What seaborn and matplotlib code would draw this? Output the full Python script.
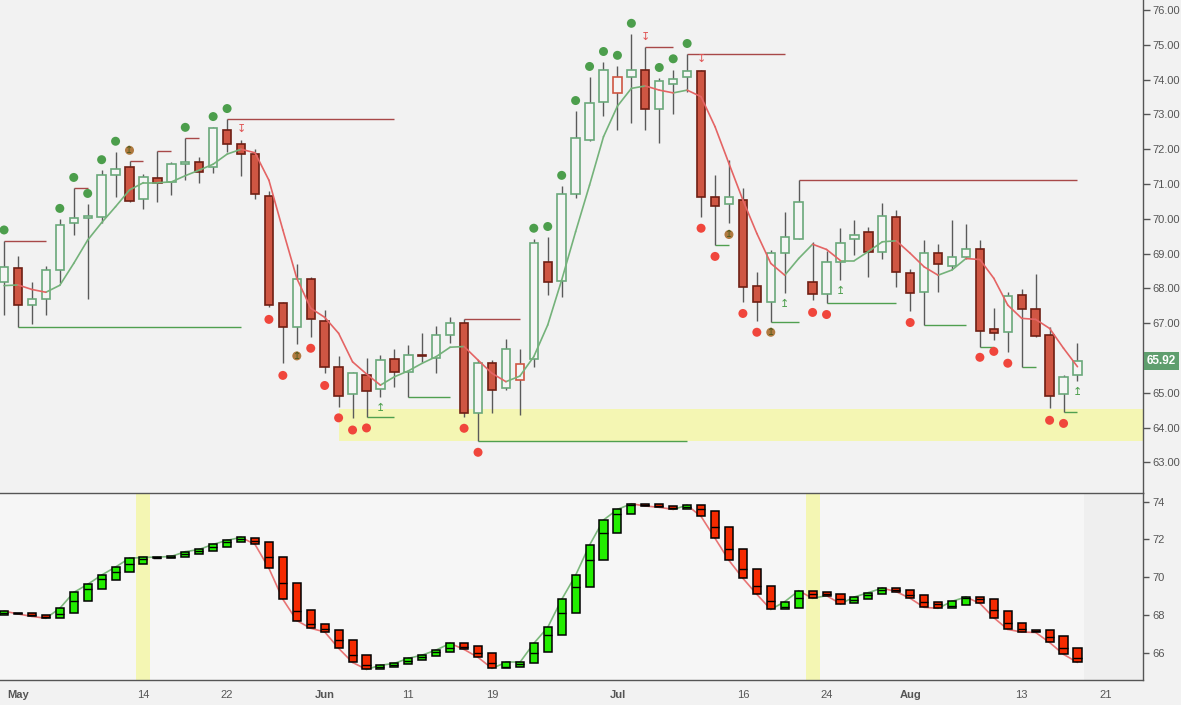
import numpy as np
import pandas as pd
import matplotlib
matplotlib.use("Agg")
import matplotlib.pyplot as plt
import matplotlib.transforms as mtransforms
from matplotlib.patches import Rectangle
import seaborn as sns

# trading-day index: -1 = Apr 30 2018, 0 = May 1 ... 76 = Aug 17
day = list(range(-1, 77))

opens = [68.19, 68.58, 67.53, 67.71, 68.53, 69.87, 70.03, 70.06, 71.25, 71.48,
         70.56, 71.16, 71.05, 71.59, 71.62, 71.48, 72.55, 72.14, 71.85, 70.67,
         67.57, 66.88, 68.26, 67.07, 65.73, 64.96, 65.52, 65.11, 65.98, 65.59,
         66.08, 66.01, 66.66, 67.02, 64.41, 65.85, 65.13, 65.37, 65.96, 68.77,
         68.22, 70.70, 72.28, 73.35, 73.63, 74.09, 74.27, 73.17, 73.89, 74.07,
         74.24, 70.62, 70.42, 70.53, 68.07, 67.62, 69.01, 69.42, 68.19, 67.83,
         68.77, 69.42, 69.61, 69.04, 70.06, 68.45, 67.89, 69.01, 68.65, 68.91,
         69.12, 66.82, 66.76, 67.80, 67.42, 66.65, 64.96, 65.50]
highs = [69.36, 68.93, 68.19, 68.65, 69.99, 70.88, 70.43, 71.40, 71.92, 71.65,
         71.29, 71.94, 71.62, 72.32, 71.79, 72.65, 72.87, 72.28, 72.02, 70.81,
         67.60, 68.69, 68.32, 67.37, 66.06, 65.59, 65.99, 66.08, 66.25, 66.37,
         66.73, 66.92, 67.17, 67.11, 65.94, 65.94, 66.54, 66.25, 69.42, 69.48,
         70.94, 73.10, 74.07, 74.52, 74.39, 75.31, 74.93, 74.04, 74.29, 74.74,
         74.29, 71.26, 71.69, 70.90, 68.47, 69.10, 70.21, 71.13, 69.32, 69.07,
         69.73, 69.97, 69.77, 70.45, 70.25, 68.55, 69.39, 69.27, 69.97, 69.85,
         69.39, 67.43, 67.89, 67.97, 68.41, 66.90, 65.51, 66.44]
lows = [67.24, 66.90, 66.98, 67.25, 68.16, 69.53, 67.69, 69.89, 70.62, 70.49,
        70.29, 70.47, 70.69, 71.11, 71.04, 71.31, 71.93, 71.24, 70.56, 67.48,
        65.85, 66.39, 66.61, 65.56, 64.60, 64.27, 64.31, 64.87, 65.18, 64.89,
        65.89, 65.56, 66.42, 64.31, 63.61, 64.43, 65.08, 64.36, 65.75, 67.82,
        67.76, 70.61, 72.25, 72.96, 72.55, 72.76, 72.55, 72.19, 73.02, 73.65,
        70.06, 69.24, 69.89, 67.62, 67.06, 67.04, 67.86, 69.42, 67.67, 67.57,
        68.24, 68.96, 68.32, 68.85, 68.03, 67.36, 66.95, 67.91, 68.55, 68.86,
        66.33, 66.52, 66.18, 65.73, 66.61, 64.55, 64.44, 65.35]
closes = [68.62, 67.52, 67.71, 68.53, 69.81, 70.01, 70.07, 71.25, 71.42, 70.52,
          71.19, 71.02, 71.57, 71.63, 71.35, 72.60, 72.14, 71.85, 70.70, 67.52,
          66.88, 68.26, 67.11, 65.73, 64.91, 65.56, 65.04, 65.95, 65.60, 66.08,
          66.05, 66.66, 67.02, 64.41, 65.85, 65.08, 66.25, 65.82, 69.30, 68.19,
          70.70, 72.31, 73.32, 74.27, 74.08, 74.29, 73.15, 73.95, 74.03, 74.24,
          70.64, 70.36, 70.62, 68.03, 67.62, 69.01, 69.47, 70.47, 67.83, 68.77,
          69.30, 69.54, 69.06, 70.09, 68.46, 67.86, 69.01, 68.69, 68.91, 69.12,
          66.79, 66.71, 67.78, 67.42, 66.64, 64.92, 65.46, 65.92]
ma = [68.08, 68.10, 67.97, 67.89, 68.09, 68.72, 69.39, 69.89, 70.35, 70.83,
      71.04, 71.04, 71.06, 71.24, 71.40, 71.57, 71.86, 72.00, 71.90, 71.11,
      69.68, 68.29, 67.43, 67.17, 66.71, 65.89, 65.54, 65.22, 65.46, 65.63,
      65.85, 66.04, 66.31, 66.33, 65.94, 65.56, 65.32, 65.48, 66.04, 66.95,
      68.24, 69.63, 70.97, 72.36, 73.24, 73.75, 73.82, 73.70, 73.62, 73.70,
      73.51, 72.65, 71.59, 70.54, 69.58, 68.72, 68.38, 68.86, 69.27, 69.12,
      68.80, 68.80, 69.06, 69.34, 69.37, 69.01, 68.62, 68.38, 68.53, 68.86,
      68.83, 68.29, 67.52, 67.14, 67.11, 66.85, 66.28, 65.75]

green_dot_day = [-1, 3, 4, 5, 6, 7, 12, 14, 15, 37, 38, 39, 40, 41, 42, 43, 44, 46, 47, 48]
green_dot_px = [69.68, 70.30, 71.19, 70.73, 71.70, 72.23, 72.63, 72.94, 73.17, 69.73,
                69.78, 71.25, 73.40, 74.38, 74.81, 74.70, 75.62, 74.35, 74.60, 75.04]
red_dot_day = [18, 19, 21, 22, 23, 24, 25, 32, 33, 49, 50, 52, 53, 57, 58, 64, 69, 70, 71, 74, 75]
red_dot_px = [67.11, 65.50, 66.28, 65.21, 64.28, 63.93, 63.99, 63.98, 63.29, 69.73,
              68.92, 67.28, 66.74, 67.31, 67.25, 67.02, 66.02, 66.19, 65.85, 64.21, 64.12]
mixed_dot_day = [8, 20, 51, 54]
mixed_dot_px = [71.97, 66.06, 69.55, 66.74]
down_arrow_day = [16, 45, 49]
down_arrow_px = [72.58, 75.23, 74.60]
up_arrow_day = [26, 55, 59, 76]
up_arrow_px = [64.55, 67.54, 67.93, 65.01]

res_start = [-1, 4, 8, 10, 12, 15, 32, 45, 48, 56]
res_end = [2, 5, 9, 11, 13, 27, 36, 47, 55, 76]
res_px = [69.36, 70.88, 71.65, 71.94, 72.32, 72.87, 67.11, 74.93, 74.74, 71.13]
sup_start = [0, 25, 28, 33, 50, 54, 58, 65, 69, 72, 75]
sup_end = [16, 27, 31, 48, 51, 56, 63, 68, 70, 73, 76]
sup_px = [66.88, 64.31, 64.89, 63.61, 69.24, 67.04, 67.57, 66.95, 66.33, 65.73, 64.44]

zone_day = 23
zone_low = 63.61
zone_high = 64.53

# lower panel: smoothed bars
ha_open = [68.02, 68.12, 68.09, 67.98, 67.86, 68.08, 68.75, 69.39, 69.87, 70.29,
           70.71, 71.00, 71.04, 71.07, 71.23, 71.40, 71.61, 71.84, 72.10, 71.88,
           71.09, 69.68, 68.25, 67.50, 67.19, 66.67, 65.87, 65.11, 65.22, 65.38,
           65.59, 65.80, 66.01, 66.49, 66.33, 65.96, 65.17, 65.25, 65.43, 66.01,
           66.92, 68.08, 69.46, 70.89, 72.32, 73.33, 73.89, 73.86, 73.75, 73.59,
           73.81, 73.49, 72.64, 71.47, 70.41, 69.51, 68.31, 68.35, 69.28, 69.23,
           69.12, 68.61, 68.82, 69.09, 69.42, 69.34, 69.04, 68.66, 68.38, 68.51,
           68.95, 68.82, 68.22, 67.55, 67.18, 67.18, 66.86, 66.23]
ha_close = [68.20, 68.05, 67.92, 67.82, 68.35, 69.19, 69.62, 70.11, 70.54, 71.00,
            71.05, 71.06, 71.10, 71.35, 71.47, 71.74, 71.95, 72.11, 71.74, 70.47,
            68.83, 67.70, 67.29, 67.10, 66.23, 65.48, 65.11, 65.33, 65.43, 65.70,
            65.87, 66.14, 66.49, 66.17, 65.75, 65.17, 65.48, 65.48, 66.49, 67.34,
            68.82, 70.10, 71.70, 73.03, 73.59, 73.89, 73.77, 73.70, 73.59, 73.81,
            73.22, 72.06, 70.89, 69.94, 69.09, 68.29, 68.70, 69.28, 68.88, 69.02,
            68.59, 68.95, 69.18, 69.42, 69.23, 68.88, 68.40, 68.35, 68.72, 68.95,
            68.61, 67.85, 67.23, 67.09, 67.07, 66.54, 65.91, 65.48]
ha_mid = [68.10, 68.08, 67.98, 67.88, 68.06, 68.75, 69.37, 69.88, 70.29, 70.71,
          70.98, 71.04, 71.07, 71.23, 71.40, 71.61, 71.84, 72.00, 71.90, 71.09,
          69.68, 68.23, 67.52, 67.24, 66.66, 65.87, 65.33, 65.24, 65.34, 65.55,
          65.78, 66.05, 66.26, 66.31, 66.00, 65.43, 65.25, 65.38, 66.00, 66.92,
          68.08, 69.46, 70.89, 72.32, 73.33, 73.82, 73.83, 73.78, 73.67, 73.73,
          73.61, 72.64, 71.49, 70.41, 69.53, 68.73, 68.43, 68.88, 69.09, 69.12,
          68.84, 68.81, 69.05, 69.30, 69.34, 69.05, 68.70, 68.56, 68.49, 68.88,
          68.82, 68.26, 67.59, 67.25, 67.14, 66.84, 66.23, 65.73]
band_day = [9, 57]

tick_day = [0, 9, 15, 22, 28, 34, 43, 52, 58, 64, 72, 78]
tick_text = ['May', '14', '22', 'Jun', '11', '19', 'Jul', '16', '24', 'Aug', '13', '21']
month_names = ['May', 'Jun', 'Jul', 'Aug']
price_ticks = [63, 64, 65, 67, 68, 69, 70, 71, 72, 73, 74, 75, 76]
lower_ticks = [66, 68, 70, 72, 74]
last_price = closes[-1]

sns.set_style("white")
plt.rcParams['font.family'] = ['Liberation Sans', 'DejaVu Sans']

GREEN = '#6aa87a'
RED_FILL = '#cf5643'
RED_EDGE = '#6e1f14'
TXT = '#555555'
XMIN, XMAX = -1.29, 80.7


def seg_frame(xs, ys):
    rows = []
    for k in range(len(xs) - 1):
        d = 'up' if ys[k + 1] >= ys[k] else 'down'
        rows.append((k, xs[k], ys[k], d))
        rows.append((k, xs[k + 1], ys[k + 1], d))
    return pd.DataFrame(rows, columns=['seg', 'x', 'y', 'dir'])


fig = plt.figure(figsize=(11.81, 7.05), dpi=100, facecolor='#f2f2f2')
ax = fig.add_axes([0, 1 - 493 / 705, 1143 / 1181, 493 / 705])
ax2 = fig.add_axes([0, 1 - 680 / 705, 1143 / 1181, 187 / 705])

# ---------- top panel ----------
ax.set_facecolor('#f2f2f2')
ax.set_xlim(XMIN, XMAX)
ax.set_ylim(62.12, 76.29)
ax.fill_between([zone_day, XMAX], zone_low, zone_high, color='#f4f6b3', lw=0, zorder=0)

ax.hlines(res_px, res_start, res_end, color='#a84848', lw=1, zorder=2)
ax.hlines(sup_px, sup_start, sup_end, color='#4f9f4f', lw=1, zorder=2)

for i, x in enumerate(day):
    o, h, l, c = opens[i], highs[i], lows[i], closes[i]
    ax.vlines(x, l, h, color='#5a5a5a', lw=1, zorder=3)
    if c < o:
        fc, ec = RED_FILL, RED_EDGE
    else:
        up = i == 0 or c >= closes[i - 1]
        fc, ec = '#f5f5f5', (GREEN if up else RED_FILL)
    lo = min(o, c)
    hgt = max(abs(c - o), 0.02)
    ax.add_patch(Rectangle((x - 0.3, lo), 0.6, hgt, fc=fc, ec=ec, lw=1.2, zorder=4))

ma_df = seg_frame(day, ma)
sns.lineplot(data=ma_df, x='x', y='y', units='seg', estimator=None, hue='dir',
             palette={'up': '#74b27a', 'down': '#e46464'}, legend=False,
             sort=False, lw=1.2, ax=ax, zorder=5)

sns.scatterplot(x=green_dot_day, y=green_dot_px, color='#4c9e4c', s=42,
                edgecolor='none', ax=ax, zorder=6)
sns.scatterplot(x=red_dot_day, y=red_dot_px, color='#f0463c', s=42,
                edgecolor='none', ax=ax, zorder=6)
sns.scatterplot(x=mixed_dot_day, y=mixed_dot_px, color='#b07a40', s=42,
                edgecolor='none', ax=ax, zorder=6)
for x, y in zip(mixed_dot_day, mixed_dot_px):
    ax.text(x, y, '↥', ha='center', va='center', fontsize=7, color='#4e5a1e',
            family='DejaVu Sans', zorder=7)
for x, y in zip(down_arrow_day, down_arrow_px):
    ax.text(x, y, '↧', ha='center', va='center', fontsize=8, color='#e05555',
            family='DejaVu Sans', zorder=7)
for x, y in zip(up_arrow_day, up_arrow_px):
    ax.text(x, y, '↥', ha='center', va='center', fontsize=8, color='#4c9e4c',
            family='DejaVu Sans', zorder=7)

for s in ['left', 'top', 'bottom']:
    ax.spines[s].set_visible(False)
ax.spines['right'].set_color(TXT)
ax.spines['right'].set_linewidth(1)
ax.yaxis.tick_right()
ax.set_yticks(price_ticks)
ax.set_yticklabels([f'{v:.2f}' for v in price_ticks])
ax.tick_params(axis='y', direction='out', length=5, width=1, color=TXT,
               labelsize=8, labelcolor=TXT, pad=2)
ax.set_xticks([])
ax.set_xlabel('')
ax.set_ylabel('')

# last-price tag on the price axis
trans = mtransforms.blended_transform_factory(ax.transAxes, ax.transData)
ax.text(1.0 + 4 / 1143, last_price, f'{last_price:.2f}', transform=trans,
        ha='left', va='center', fontsize=8.5, fontweight='bold', color='white',
        bbox=dict(boxstyle='square,pad=0.25', fc='#5f9e6e', ec='none'),
        zorder=10, clip_on=False)

# ---------- bottom panel ----------
ax2.set_facecolor('#f6f6f6')
ax2.set_xlim(XMIN, XMAX)
ax2.set_ylim(64.55, 74.46)
ax2.axvspan(76.45, XMAX, color='#efefef', lw=0, zorder=0)
for d in band_day:
    ax2.axvspan(d - 0.5, d + 0.5, color='#f4f6b3', lw=0, zorder=0)

ha_df = seg_frame(day, ha_close)
sns.lineplot(data=ha_df, x='x', y='y', units='seg', estimator=None, hue='dir',
             palette={'up': '#7cb87c', 'down': '#e87474'}, legend=False,
             sort=False, lw=1.2, ax=ax2, zorder=2)

bottoms = [min(a, b) for a, b in zip(ha_open, ha_close)]
heights = [max(abs(b - a), 0.03) for a, b in zip(ha_open, ha_close)]
colors = ['#22ee00' if b >= a else '#f52a00' for a, b in zip(ha_open, ha_close)]
ax2.bar(day, heights, bottom=bottoms, width=0.58, color=colors,
        edgecolor='black', linewidth=1.1, zorder=3)
ax2.hlines(ha_mid, np.array(day) - 0.29, np.array(day) + 0.29, color='black',
           lw=1, zorder=4)

ax2.spines['left'].set_visible(False)
for s in ['top', 'bottom', 'right']:
    ax2.spines[s].set_color(TXT)
    ax2.spines[s].set_linewidth(1)
ax2.yaxis.tick_right()
ax2.set_yticks(lower_ticks)
ax2.set_yticklabels([str(v) for v in lower_ticks])
ax2.set_xticks(tick_day)
ax2.set_xticklabels(tick_text)
for lab in ax2.get_xticklabels():
    if lab.get_text() in month_names:
        lab.set_fontweight('bold')
ax2.tick_params(axis='both', direction='out', length=4, width=1, color=TXT,
                labelsize=8, labelcolor=TXT, pad=3)
ax2.set_xlabel('')
ax2.set_ylabel('')

fig.savefig('out.png', dpi=100, facecolor=fig.get_facecolor())
